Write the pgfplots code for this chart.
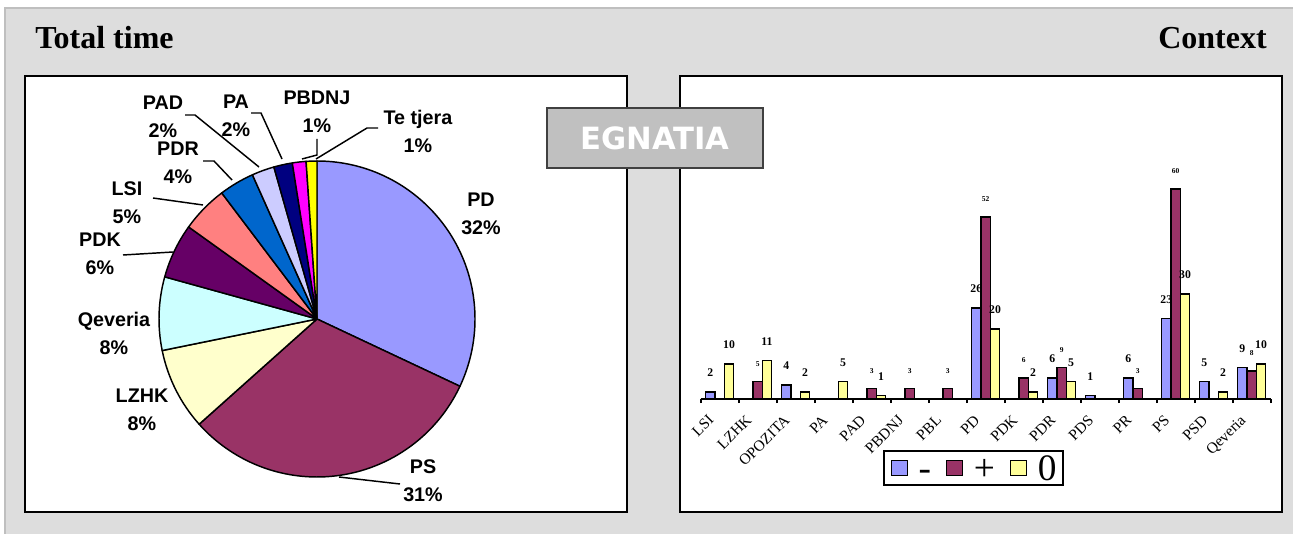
\documentclass[border=0pt]{standalone}
\usepackage{fontspec}
\setmainfont{Liberation Serif}
\setsansfont{Liberation Sans}
\newfontfamily\egfont{DejaVu Sans}
\usepackage{pgfplots}
\usepackage{pgfplotstable}
\pgfplotsset{compat=1.18}

\definecolor{cPD}{HTML}{9999FF}
\definecolor{cPS}{HTML}{993366}
\definecolor{cLZHK}{HTML}{FFFFCC}
\definecolor{cQev}{HTML}{CCFFFF}
\definecolor{cPDK}{HTML}{660066}
\definecolor{cLSI}{HTML}{FF8080}
\definecolor{cPDR}{HTML}{0066CC}
\definecolor{cPAD}{HTML}{CCCCFF}
\definecolor{cPA}{HTML}{000080}
\definecolor{cPBDNJ}{HTML}{FF00FF}
\definecolor{cTe}{HTML}{FFFF00}
\definecolor{barYel}{HTML}{FFFF99}
\definecolor{panel}{HTML}{DDDDDD}
\definecolor{egbox}{HTML}{C0C0C0}

% bar data: category index (0 = LSI ... 14 = Qeveria) and count
\pgfplotstableread{
x y
0 2
2 4
7 26
9 6
10 1
11 6
12 23
13 5
14 9
}\minustab
\pgfplotstableread{
x y
1 5
4 3
5 3
6 3
7 52
8 6
9 9
11 3
12 60
14 8
}\plustab
\pgfplotstableread{
x y
0 10
1 11
2 2
3 5
4 1
7 20
8 2
9 5
12 30
13 2
14 10
}\zerotab

% pie slice: #1 share already used (%), #2 share (%), #3 colour
\newcommand{\slice}[3]{%
  \fill[#3, draw=black, line width=1.1pt, line join=round]
    (axis cs:0,0) -- (axis cs:{cos(90-3.6*#1)},{sin(90-3.6*#1)})
    arc[start angle={90-3.6*#1}, end angle={90-3.6*(#1+#2)}, radius=118.5pt] -- cycle;}

\pgfplotsset{sq legend/.style={legend image code/.code={%
  \draw[##1, draw=black, line width=1.1pt] (0pt,-5.5pt) rectangle (12pt,5.5pt);}}}

\begin{document}
\begin{tikzpicture}[x=0.75pt, y=0.75pt]
\useasboundingbox (0,0) rectangle (1293,533);
\fill[white] (0,0) rectangle (1293,533);
\filldraw[fill=panel, draw=black!25, line width=1pt] (5,-2) rectangle (1296,525);

% panels
\filldraw[fill=white, draw=black, line width=1.5pt] (25,21) rectangle (627,457);
\filldraw[fill=white, draw=black, line width=1.5pt] (680,21) rectangle (1282,457);

\node[anchor=base west, inner sep=0, font=\bfseries\fontsize{24}{26}\selectfont] at (35,484) {Total time};
\node[anchor=base east, inner sep=0, font=\bfseries\fontsize{24}{26}\selectfont] at (1267,484) {Context};

% pie chart, centre at (317,214) px
\begin{axis}[
  at={(237.75pt,160.5pt)}, anchor=center,
  scale only axis, width=237pt, height=237pt,
  xmin=-1, xmax=1, ymin=-1, ymax=1,
  hide axis, clip=false,
]
\slice{0}{32}{cPD}
\slice{32}{31.4}{cPS}
\slice{63.4}{8.4}{cLZHK}
\slice{71.8}{7.5}{cQev}
\slice{79.3}{5.6}{cPDK}
\slice{84.9}{4.8}{cLSI}
\slice{89.7}{3.6}{cPDR}
\slice{93.3}{2.3}{cPAD}
\slice{95.6}{1.9}{cPA}
\slice{97.5}{1.4}{cPBDNJ}
\slice{98.9}{1.1}{cTe}
\end{axis}

\begin{scope}[every node/.style={align=center, inner sep=0, font=\sffamily\bfseries\fontsize{14.8}{21}\selectfont}]
\node at (481,319) {PD\\32\%};
\node at (423,52) {PS\\31\%};
\node at (142,123) {LZHK\\8\%};
\node at (114,200) {Qeveria\\8\%};
\node at (100,279) {PDK\\6\%};
\node at (127,330) {LSI\\5\%};
\node at (178,370) {PDR\\4\%};
\node at (163,416) {PAD\\2\%};
\node at (236,417) {PA\\2\%};
\node at (317,421) {PBDNJ\\1\%};
\node at (418,402) {Te tjera\\1\%};
\end{scope}
\begin{scope}[line width=1.1pt]
\draw (339,56) -- (400,49);
\draw (123,278) -- (173,281);
\draw (153,335) -- (203,328);
\draw (203,372) -- (214,372) -- (232,353);
\draw (185,418) -- (195,418) -- (259,366);
\draw (251,420) -- (261,420) -- (282,374);
\draw (317,394) -- (317,378) -- (302,374);
\draw (378,405) -- (367,405) -- (316,374);
\end{scope}

% bar chart, lower left corner at (700.7,134) px
\begin{axis}[
  at={(525.5pt,100.5pt)}, anchor=south west,
  scale only axis, width=427.5pt, height=183.75pt,
  xmin=-0.5, xmax=14.5, ymin=0, ymax=70,
  ybar=0pt, bar width=7pt,
  axis x line*=bottom, axis y line=none,
  x axis line style={-, line width=1.3pt},
  xtick={-0.17,0.83,...,13.83},
  xticklabels={LSI,LZHK,OPOZITA,PA,PAD,PBDNJ,PBL,PD,PDK,PDR,PDS,PR,PS,PSD,Qeveria},
  major tick length=0pt,
  extra x ticks={-0.5,0.5,...,14.5},
  extra x tick labels={},
  extra x tick style={major tick length=3pt, tick align=outside, tick style={line width=1.3pt, black}},
  xticklabel style={rotate=45, anchor=north east, inner sep=1pt, xshift=-10pt, yshift=-3.7pt,
    font=\fontsize{11.5}{12}\selectfont},
  /pgf/number format/assume math mode=true,
  nodes near coords,
  every node near coord/.append style={font=\bfseries\fontsize{8.8}{10}\selectfont, yshift=7.5pt},
  clip=false,
  legend columns=3,
  legend style={at={(0.4786,-0.2816)}, anchor=center, draw=black, line width=1.3pt,
    fill=white, inner xsep=5pt, inner ysep=2.5pt,
    font=\fontsize{28}{28}\selectfont,
    nodes={inner xsep=0pt, inner ysep=1pt, text height=19pt, text depth=0pt},
    /tikz/every odd column/.append style={column sep=8pt},
    /tikz/every even column/.append style={column sep=11pt}},
]
\addplot[fill=cPD, draw=black, line width=1.1pt, sq legend] table[x=x, y=y] {\minustab};
\addplot[fill=cPS, draw=black, line width=1.1pt, sq legend,
  every node near coord/.append style={font=\bfseries\fontsize{5.6}{6}\selectfont}] table[x=x, y=y] {\plustab};
\addplot[fill=barYel, draw=black, line width=1.1pt, sq legend] table[x=x, y=y] {\zerotab};
\legend{-,+,0}
\end{axis}

% label box
\filldraw[fill=egbox, draw=black!75, line width=1.3pt] (547,365) rectangle (763,425);
\node[text=white, font=\egfont\bfseries\fontsize{23}{26}\selectfont] at (655,395) {EGNATIA};
\end{tikzpicture}
\end{document}
